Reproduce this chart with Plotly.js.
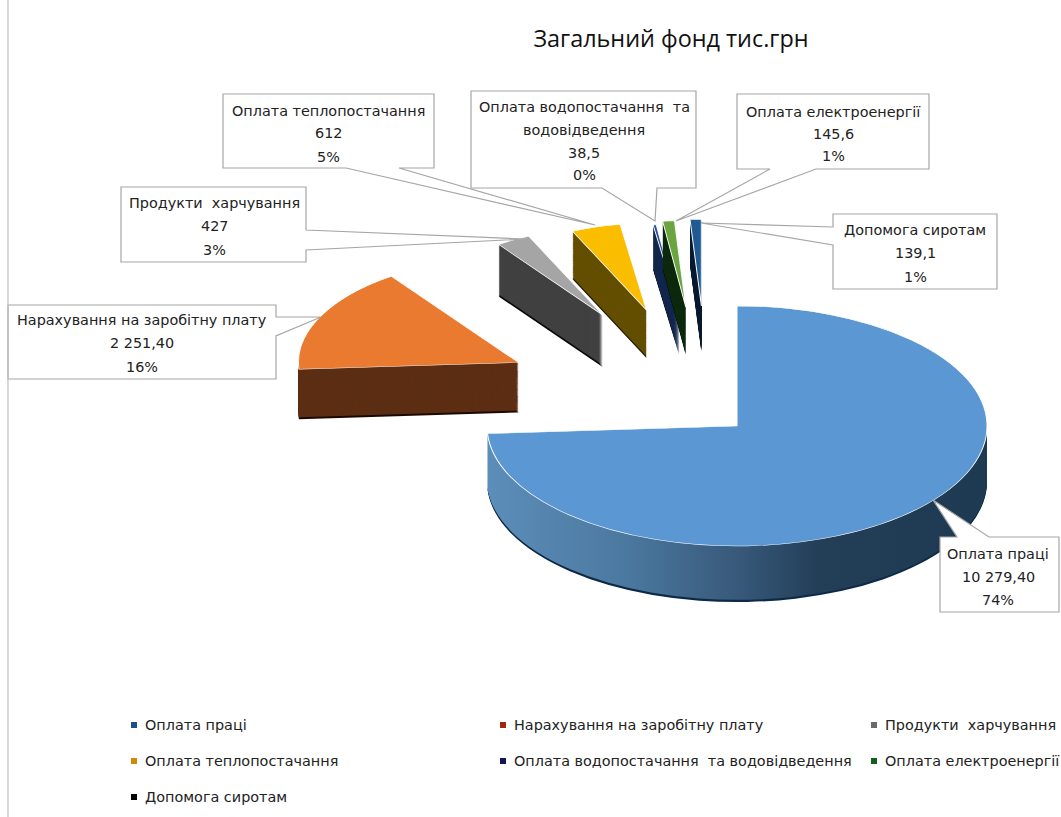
<!DOCTYPE html>
<html>
<head>
<meta charset="utf-8">
<script src="https://cdn.plot.ly/plotly-3.0.1.min.js"></script>
<style>html,body{margin:0;padding:0;background:#fff;overflow:hidden}</style>
</head>
<body>
<div id="chart" style="width:1061px;height:817px"></div>
<script>
// ---- data ----
const categories = ["Оплата праці","Нарахування на заробітну плату","Продукти  харчування","Оплата теплопостачання","Оплата водопостачання  та водовідведення","Оплата електроенергії","Допомога сиротам"];
const values = [10279.4, 2251.4, 427, 612, 38.5, 145.6, 139.1];
const valueLabels = ["10 279,40","2 251,40","427","612","38,5","145,6","139,1"];
const percentLabels = ["74%","16%","3%","5%","0%","1%","1%"];
const topColors = ["#5b97d3","#e97a2f","#a5a5a5","#fbbd00","#2a4f9a","#6aa53f","#1f5a94"];
const sideColors = ["#2a4a68","#5c2e13","#414141","#634e00","#13274d","#0e2a0e","#0b1c30"];
const edgeColors = ["#0d2a47","#1c0a02","#0a0a0a","#231a00","#040a1a","#020a02","#020408"];
const legendColors = ["#1f4e86","#9c2a0c","#6a6a6a","#d08a08","#14145e","#12601a","#000000"];
const pulls = [0,1,1,1,1,1,1];

// placement of each slice's extruded block
const sliceDx = [0,-20,-45,-40,-33,-34,-30];
const sliceDy = [0,-18,-36,-33,-30,-33,-34];
const sliceScale = [1,0.88,0.72,0.72,0.72,0.72,0.72];
const sliceDepth = [56,50,52,48,45,48,46];

const W=1061,H=817,LAYERS=52,R0=150;
const sx=250/R0, sy=120/R0, cx0=350, cy0=360;
const tx=737-sx*cx0, ty=426-sy*cy0;

function domainOf(cx,cy,h){return {x:[(cx-h)/W,(cx+h)/W],y:[1-(cy+h)/H,1-(cy-h)/H]};}
const clear='rgba(0,0,0,0)';
function pieTrace(idx,color,lineW,dom){
  return {type:'pie',labels:categories,values:values,sort:false,direction:'clockwise',rotation:0,
    pull:pulls,textinfo:'none',hoverinfo:'skip',showlegend:false,domain:dom,
    marker:{colors:categories.map((c,i)=>i===idx?color:clear),
            line:{color:'#ffffff',width:categories.map((c,i)=>i===idx?lineW:0)}}};
}
const traces=[];
// legend carrier, kept hidden under the blue block
traces.push({type:'pie',labels:categories,values:values,sort:false,textinfo:'none',hoverinfo:'skip',showlegend:true,
  domain:domainOf(cx0+40,cy0+40,12),marker:{colors:legendColors,line:{width:0}}});
const blueSideIdx=[];
categories.forEach((c,i)=>{
  const h=2*R0*sliceScale[i];
  const cx=cx0+sliceDx[i]/sx, cy=cy0+sliceDy[i]/sy;
  for(let k=LAYERS;k>=0;k--){
    const off=sliceDepth[i]/sy*k/LAYERS;
    let col = k===0?topColors[i]:(k>=LAYERS-1?edgeColors[i]:sideColors[i]);
    if(i===0&&k>0&&k<LAYERS-1) blueSideIdx.push(traces.length);
    traces.push(pieTrace(i,col,k===0?0.6:0,domainOf(cx,cy+off,h)));
  }
});

// callouts: outline in page pixels
const px=x=>(x/W).toFixed(5), py=y=>(1-y/H).toFixed(5);
function poly(pts){return 'M'+pts.map(p=>px(p[0])+','+py(p[1])).join('L')+'Z';}
const callouts=[
 [[940,537],[957,537],[933,500],[989,537],[1059,537],[1059,612],[940,612]],
 [[8,305],[276,305],[276,317],[321,317],[276,336],[276,379],[8,379]],
 [[121,187],[306,187],[306,230],[525,239],[306,250],[306,262],[121,262]],
 [[223,94],[434,94],[434,168],[399,168],[595,225],[346,168],[223,168]],
 [[471,91],[696,91],[696,188],[657,188],[655,221],[602,188],[471,188]],
 [[737,94],[929,94],[929,169],[816,169],[676,221],[770,169],[737,169]],
 [[833,214],[997,214],[997,289],[833,289],[833,245],[701,223],[833,227]]
];
const shapes=callouts.map(pts=>({type:'path',xref:'paper',yref:'paper',path:poly(pts),fillcolor:'#ffffff',
  line:{color:'#a6a6a6',width:1.2},layer:'above'}));
shapes.push({type:'line',xref:'paper',yref:'paper',x0:8/W,x1:8/W,y0:0,y1:1,line:{color:'#bfbfbf',width:1.2}});

const font={family:'"DejaVu Sans", sans-serif',size:14.4,color:'#222222'};
const calloutLines=[
 [998,[[categories[0],554],[valueLabels[0],577],[percentLabels[0],600]]],
 [142,[[categories[1],320],[valueLabels[1],343],[percentLabels[1],367]]],
 [214,[[categories[2],203],[valueLabels[2],226],[percentLabels[2],250]]],
 [328,[[categories[3],111],[valueLabels[3],133],[percentLabels[3],157]]],
 [584,[["Оплата водопостачання  та",107],["водовідведення",130],[valueLabels[4],153],[percentLabels[4],175]]],
 [833,[[categories[5],112],[valueLabels[5],134],[percentLabels[5],156]]],
 [915,[[categories[6],230],[valueLabels[6],253],[percentLabels[6],277]]]
];
const annotations=[];
calloutLines.forEach(([x,lines])=>lines.forEach(([t,y])=>annotations.push({
  xref:'paper',yref:'paper',x:x/W,y:1-y/H,text:t,showarrow:false,xanchor:'center',yanchor:'middle',font:font})));

const layout={width:W,height:H,margin:{l:0,r:0,t:0,b:0,pad:0},paper_bgcolor:'#ffffff',
  title:{text:'Загальний фонд тис.грн',x:671/W,xanchor:'center',xref:'paper',y:1-39/H,yanchor:'middle',
    font:{family:'"Open Sans", sans-serif',size:23.4,color:'#111111'}},
  showlegend:true,
  legend:{orientation:'h',x:0,y:1,xanchor:'left',yanchor:'top',bgcolor:clear,font:font,traceorder:'normal'},
  shapes:shapes,annotations:annotations};

Plotly.newPlot('chart',traces,layout,{displayModeBar:false,staticPlot:true}).then(gd=>{
  // elliptical projection of the pies
  const pl=gd.querySelector('.pielayer');
  pl.setAttribute('transform',`matrix(${sx},0,0,${sy},${tx},${ty})`);
  // rim gradient of the blue block
  const svg=gd.querySelector('svg.main-svg');
  const ns='http://www.w3.org/2000/svg';
  let defs=svg.querySelector('defs');
  const g=document.createElementNS(ns,'linearGradient');
  g.setAttribute('id','blueRim');
  [[0,'#5c8eba'],[0.28,'#4b789f'],[0.5,'#38597a'],[0.66,'#233f58'],[1,'#1e3a52']].forEach(([o,c])=>{
    const s=document.createElementNS(ns,'stop');s.setAttribute('offset',o);s.setAttribute('stop-color',c);g.appendChild(s);});
  defs.appendChild(g);
  const tr=pl.querySelectorAll('.trace');
  blueSideIdx.forEach(i=>{
    const p=tr[i]&&tr[i].querySelector('.slice path');
    if(p) p.style.fill='url(#blueRim)';
  });
  // legend: three columns with small square keys
  const leg=gd.querySelector('.legend');
  leg.setAttribute('transform','translate(0,0)');
  const sb=leg.querySelector('.scrollbox');
  if(sb) {sb.removeAttribute('clip-path');sb.setAttribute('transform','translate(0,0)');}
  const cols=[134,503,874], rows=[725,761,797];
  leg.querySelectorAll('.traces').forEach((t,i)=>{
    const c=i%3,r=Math.floor(i/3);
    t.setAttribute('transform',`translate(${cols[c]},${rows[r]})`);
    const pt=t.querySelector('.legendpoints');
    if(pt) pt.setAttribute('transform','translate(0,0)');
    const lp=t.querySelector('.legendpie');
    if(lp) lp.setAttribute('transform','scale(0.5)');
    const txt=t.querySelector('.legendtext');
    if(txt){txt.setAttribute('x',11);txt.setAttribute('y',5);
      txt.querySelectorAll('tspan').forEach(s=>{if(s.hasAttribute('x'))s.setAttribute('x',11);});}
  });
});
</script>
</body>
</html>
